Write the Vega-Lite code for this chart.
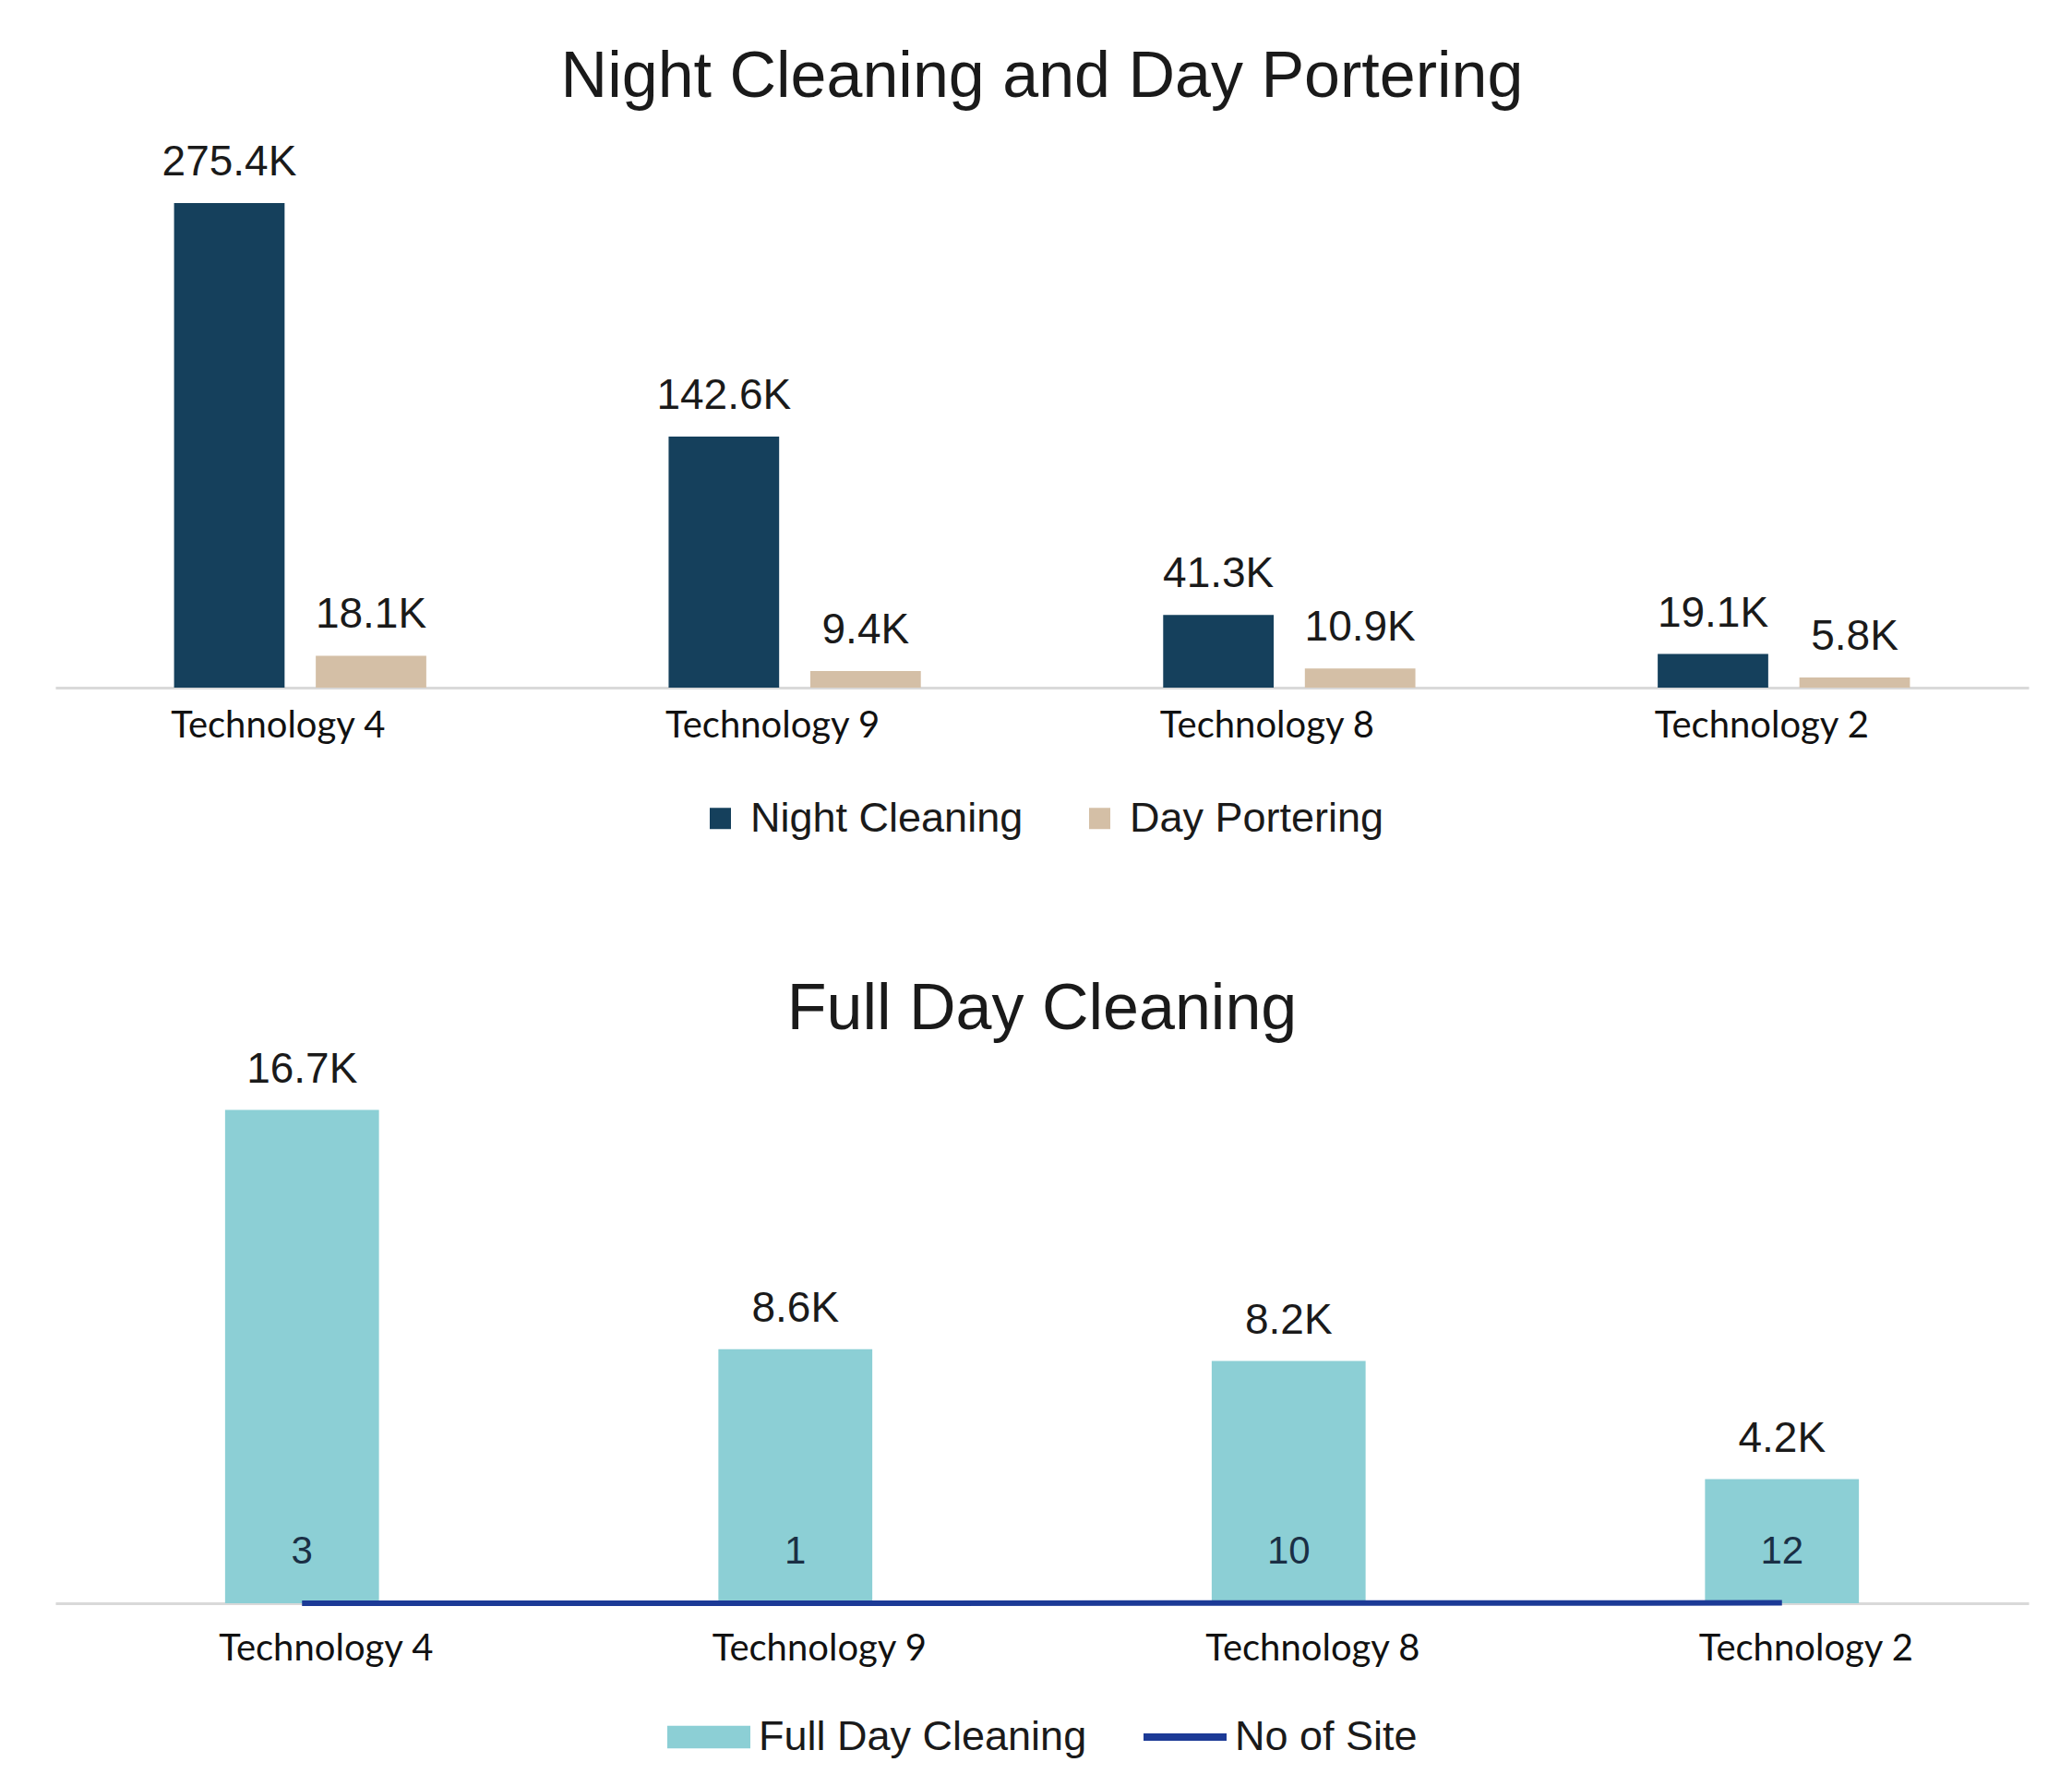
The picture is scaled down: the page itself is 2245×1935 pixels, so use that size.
{
  "$schema": "https://vega.github.io/schema/vega-lite/v6.json",
  "background": "white",
  "padding": {"left": 60, "top": 48, "right": 40, "bottom": 10},
  "spacing": 148,
  "resolve": {"scale": {"color": "independent", "y": "independent"}, "legend": {"color": "independent"}},
  "vconcat": [
    {
      "width": 2138,
      "height": 572,
      "title": {"text": "Night Cleaning and Day Portering", "frame": "group", "baseline": "alphabetic", "offset": -22},
      "data": {
        "values": [
          {"tech": "Technology 4", "type": "Night Cleaning", "value": 275400},
          {"tech": "Technology 4", "type": "Day Portering", "value": 18100},
          {"tech": "Technology 9", "type": "Night Cleaning", "value": 142600},
          {"tech": "Technology 9", "type": "Day Portering", "value": 9400},
          {"tech": "Technology 8", "type": "Night Cleaning", "value": 41300},
          {"tech": "Technology 8", "type": "Day Portering", "value": 10900},
          {"tech": "Technology 2", "type": "Night Cleaning", "value": 19100},
          {"tech": "Technology 2", "type": "Day Portering", "value": 5800}
        ]
      },
      "transform": [
        {"calculate": "upper(format(datum.value, '.4~s'))", "as": "label"}
      ],
      "encoding": {
        "x": {
          "field": "tech", "type": "nominal", "sort": null, "title": null,
          "scale": {"paddingInner": 0.49, "paddingOuter": 0.24},
          "axis": {"labelOffset": -24, "labelPadding": 21}
        },
        "xOffset": {
          "field": "type", "type": "nominal",
          "sort": ["Night Cleaning", "Day Portering"],
          "scale": {"paddingInner": 0.22}
        },
        "y": {
          "field": "value", "type": "quantitative",
          "scale": {"domain": [0, 300000]},
          "axis": null
        }
      },
      "layer": [
        {
          "mark": {"type": "bar"},
          "encoding": {
            "color": {
              "field": "type", "type": "nominal",
              "scale": {"domain": ["Night Cleaning", "Day Portering"], "range": ["#15405c", "#d4bfa6"]},
              "legend": {"symbolType": "square", "symbolSize": 529, "columnPadding": 60, "labelOffset": 10, "offset": 58}
            }
          }
        },
        {
          "mark": {"type": "text", "baseline": "alphabetic", "dy": -30, "font": "Liberation Sans", "fontSize": 46, "color": "#1a1a1a"},
          "encoding": {"text": {"field": "label"}}
        }
      ]
    },
    {
      "width": 2138,
      "height": 576,
      "title": {"text": "Full Day Cleaning", "frame": "group", "baseline": "alphabetic", "offset": -49},
      "data": {
        "values": [
          {"tech": "Technology 4", "full": 16700, "sites": 3},
          {"tech": "Technology 9", "full": 8600, "sites": 1},
          {"tech": "Technology 8", "full": 8200, "sites": 10},
          {"tech": "Technology 2", "full": 4200, "sites": 12}
        ]
      },
      "transform": [
        {"calculate": "upper(format(datum.full, '.4~s'))", "as": "label"}
      ],
      "encoding": {
        "x": {
          "field": "tech", "type": "nominal", "sort": null, "title": null,
          "scale": {"paddingInner": 0.688, "paddingOuter": 0.344},
          "axis": {"labelOffset": 26, "labelPadding": 29}
        }
      },
      "layer": [
        {
          "mark": {"type": "bar"},
          "encoding": {
            "y": {"field": "full", "type": "quantitative", "scale": {"domain": [0, 18000]}, "axis": null},
            "color": {
              "datum": "Full Day Cleaning",
              "scale": {"domain": ["Full Day Cleaning", "No of Site"], "range": ["#8ccfd5", "#1c3a96"]},
              "legend": {
                "symbolType": "M-1,-0.27H1V0.27H-1Z",
                "symbolSize": 8100,
                "columnPadding": 60,
                "labelOffset": 8,
                "offset": 30,
                "encode": {
                  "symbols": {
                    "update": {
                      "shape": {"signal": "datum.label === 'No of Site' ? 'M-1,-0.09H1V0.09H-1Z' : 'M-1,-0.27H1V0.27H-1Z'"}
                    }
                  }
                }
              }
            }
          }
        },
        {
          "mark": {"type": "text", "baseline": "alphabetic", "dy": -30, "font": "Liberation Sans", "fontSize": 46, "color": "#1a1a1a"},
          "encoding": {
            "y": {"field": "full", "type": "quantitative"},
            "text": {"field": "label"}
          }
        },
        {
          "mark": {"type": "line", "color": "#1c3a96", "strokeWidth": 6},
          "encoding": {
            "y": {"field": "sites", "type": "quantitative"}
          }
        },
        {
          "mark": {"type": "text", "baseline": "middle", "dy": -56, "font": "Liberation Sans", "fontSize": 42, "color": "#1a2f45"},
          "encoding": {
            "y": {"field": "sites", "type": "quantitative"},
            "text": {"field": "sites", "type": "quantitative"}
          }
        }
      ]
    }
  ],
  "config": {
    "view": {"stroke": null},
    "font": "Liberation Sans",
    "title": {"font": "Liberation Sans", "fontSize": 70, "fontWeight": "normal", "color": "#1a1a1a", "anchor": "middle"},
    "axisX": {
      "domainColor": "#d9d9d9", "domainWidth": 3, "ticks": false, "grid": false,
      "labelFont": "Lato", "labelFontSize": 40, "labelColor": "#111111", "labelAngle": 0, "labelLimit": 0
    },
    "legend": {
      "orient": "bottom", "direction": "horizontal", "title": null,
      "labelFont": "Liberation Sans", "labelFontSize": 45, "labelColor": "#1a1a1a", "labelLimit": 0,
      "layout": {"bottom": {"anchor": "middle"}}
    }
  }
}
